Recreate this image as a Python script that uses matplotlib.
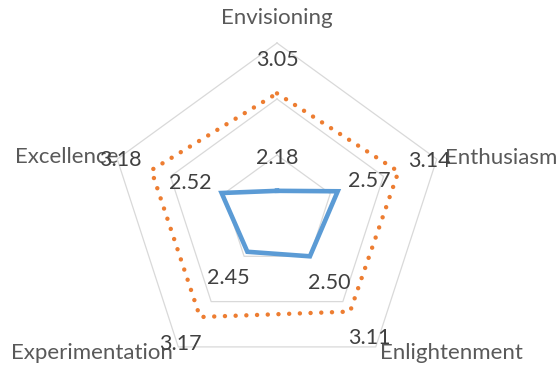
import numpy as np
import matplotlib
matplotlib.use("Agg")
import matplotlib.pyplot as plt

categories = ["Envisioning", "Enthusiasm", "Enlightenment", "Experimentation", "Excellence"]
series_current = [2.18, 2.57, 2.50, 2.45, 2.52]
series_target = [3.05, 3.14, 3.11, 3.17, 3.18]
r_ticks = [2.5, 3.0, 3.5]
r_min, r_max = 2.0, 3.5

plt.rcParams['font.family'] = ['Lato', 'DejaVu Sans']

W, H = 559, 369
fig = plt.figure(figsize=(W / 100, H / 100), dpi=100)
cx, cy, R = 277, 211, 168
ax = fig.add_axes([(cx - R) / W, (H - cy - R) / H, 2 * R / W, 2 * R / H], projection='polar')
ax.set_theta_zero_location('N')
ax.set_theta_direction(-1)
ax.set_ylim(r_min, r_max)
ax.grid(False)
ax.spines['polar'].set_visible(False)
ax.set_xticks([])
ax.set_yticks([])
ax.patch.set_visible(False)

n = len(categories)
theta = np.arange(n) * 2 * np.pi / n
theta_c = np.append(theta, theta[0])

for rv in r_ticks:
    ax.plot(theta_c, [rv] * (n + 1), color='#D9D9D9', lw=0.9, zorder=1, clip_on=False)

ax.plot(theta_c, series_current + series_current[:1], color='#5B9BD5', lw=3.3,
        solid_joinstyle='miter', zorder=3, clip_on=False)
ax.plot(theta_c, series_target + series_target[:1], color='#ED7D31', lw=3.2,
        linestyle=(0, (0.01, 2.4)), dash_capstyle='round', zorder=3, clip_on=False)

off = 33
for vals in (series_current, series_target):
    for t, v in zip(theta, vals):
        ax.annotate(f"{v:.2f}", xy=(t, v), xytext=(off * np.sin(t), off * np.cos(t)),
                    textcoords='offset pixels', ha='center', va='center',
                    fontsize=15.5, color='#404040', zorder=5, annotation_clip=False)

cat_off = [(0, 25, 'center'), (8, 1, 'left'), (4, -6, 'left'), (-5, -6, 'right'), (1, 2, 'right')]
for t, name, (dx, dy, ha) in zip(theta, categories, cat_off):
    ax.annotate(name, xy=(t, r_max), xytext=(dx, dy), textcoords='offset pixels',
                ha=ha, va='center', fontsize=16, color='#595959', zorder=4,
                annotation_clip=False)

fig.savefig("out.png", dpi=100)
